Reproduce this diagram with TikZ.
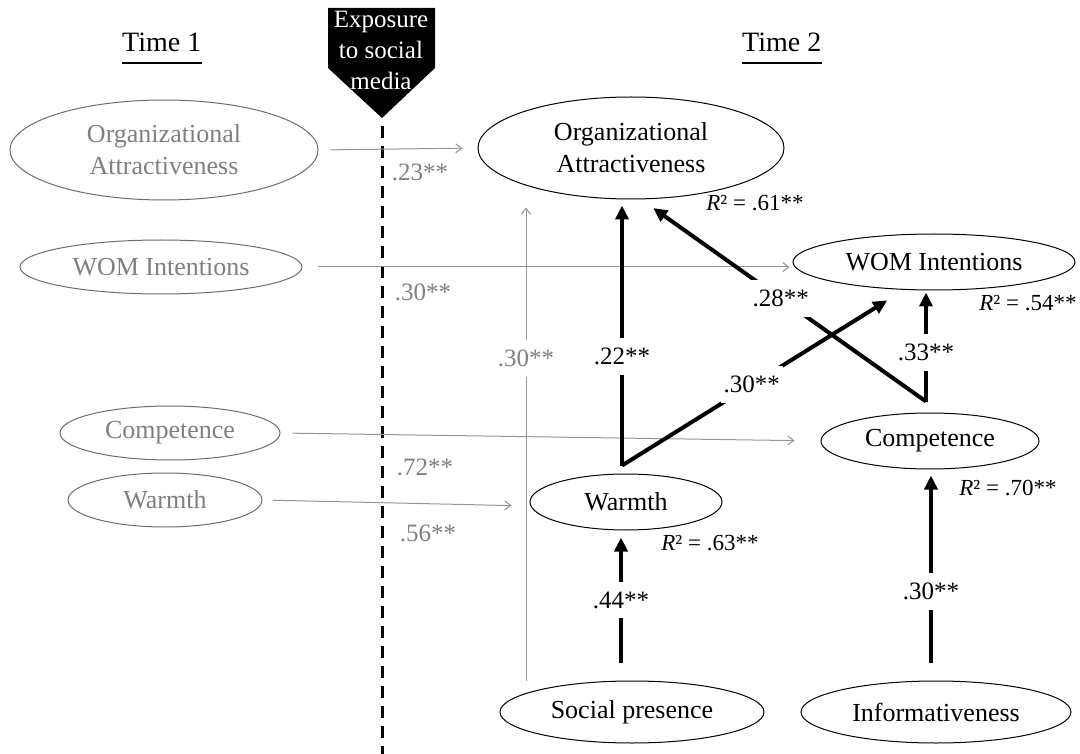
\documentclass[tikz,border=0pt]{standalone}
\usepackage{fontspec}
\setmainfont{Liberation Serif}
\usetikzlibrary{shapes.geometric,arrows.meta,positioning,calc}
\definecolor{tonegray}{RGB}{128,128,128}
\definecolor{tonedraw}{RGB}{110,110,110}
\definecolor{tonearrow}{RGB}{150,150,150}

\tikzset{
  latent/.style={ellipse, line width=1pt, inner sep=0pt, align=center, font=\fontsize{26}{32}\selectfont},
  ttwo/.style={latent, draw=black, text=black},
  tone/.style={latent, draw=tonedraw, text=tonegray},
  effect/.style={line width=4pt, -{Triangle[length=14pt,width=13pt]}},
  stab/.style={draw=tonearrow, line width=1pt, -{Straight Barb[length=6pt,width=9pt]}},
  coef/.style={font=\fontsize{25}{30}\selectfont, fill=white, inner xsep=3pt, inner ysep=10pt},
  greycoef/.style={coef, text=tonegray},
  tcoef/.style={font=\fontsize{25}{30}\selectfont, text=tonegray, inner sep=0pt},
  rsq/.style={font=\fontsize{23}{28}\selectfont, inner sep=0pt},
  header/.style={font=\fontsize{28}{32}\selectfont, inner sep=0pt, anchor=base west},
  exposure/.style={line width=3pt, dash pattern=on 12pt off 8pt}
}

\begin{document}
\begin{tikzpicture}[x=1pt, y=-1pt]
\path[fill=white, use as bounding box] (0,0) rectangle (1080,754);

\node[header] (time1) at (122,52) {Time 1\hspace{14pt}};
\node[header] (time2) at (742,52) {Time 2\hspace{14pt}};
\draw[line width=1.3pt] ([yshift=-11pt]time1.base west) -- ([yshift=-11pt]time1.base east);
\draw[line width=1.3pt] ([yshift=-11pt]time2.base west) -- ([yshift=-11pt]time2.base east);

\fill (328,8) -- (435,8) -- (435,68) -- (382,118) -- (328,68) -- cycle;
\node[text=white, align=center, font=\fontsize{25}{31}\selectfont, inner sep=0pt] (expo) at (381,50) {Exposure\\to social\\media};
\coordinate (tip) at (382,118);
\coordinate (dashend) at (382,754);
\draw[exposure] ([yshift=-8pt]tip) -- (dashend);

\node[tone, minimum width=308pt, minimum height=100pt] (oa1) at (164,150) {Organizational\\Attractiveness};
\node[tone, minimum width=282pt, minimum height=54pt] (wom1) at (161,267) {WOM Intentions};
\node[tone, minimum width=220pt, minimum height=54pt] (comp1) at (170,433) {Competence};
\node[tone, minimum width=194pt, minimum height=54pt] (warm1) at (165,500) {Warmth};

\node[ttwo, minimum width=306pt, minimum height=102pt] (oa2) at (631,148) {Organizational\\Attractiveness};
\node[ttwo, minimum width=282pt, minimum height=56pt] (wom2) at (934,262) {WOM Intentions};
\node[ttwo, minimum width=218pt, minimum height=56pt] (comp2) at (930,441) {Competence};
\node[ttwo, minimum width=192pt, minimum height=56pt] (warm2) at (626,502) {Warmth};
\node[ttwo, minimum width=264pt, minimum height=62pt] (sp) at (632,712) {Social presence};
\node[ttwo, minimum width=270pt, minimum height=62pt] (info) at (936,712) {Informativeness};

\draw[stab, shorten <=12pt, shorten >=15pt] (oa1.east) -- (oa2.west);
\draw[stab, shorten <=15pt, shorten >=3pt] (wom1.east) -- (wom1.east -| wom2.west);
\draw[stab, shorten <=12pt, shorten >=26pt] (comp1.east) -- (comp2.west);
\draw[stab, shorten <=10pt, shorten >=18pt] (warm1.east) -- ([yshift=-4pt]warm2.west);
\draw[stab] ([xshift=-106pt]sp.north) -- node[greycoef, pos=0.68] (g30) {.30**} ([xshift=-105pt,yshift=-8pt]oa2.south);

\node[tcoef] (b23) at (420,172) {.23**};
\node[tcoef] (b30) at (423,292) {.30**};
\node[tcoef] (b72) at (425,467) {.72**};
\node[tcoef] (b56) at (428,533) {.56**};

\coordinate (wtop) at ([xshift=-4pt,yshift=8pt]warm2.north);
\coordinate (ctop) at ([xshift=-4pt,yshift=11pt]comp2.north);

\draw[effect, shorten >=6pt] (wtop) -- node[coef, pos=0.41] (c22) {.22**} (wtop |- oa2.south);
\draw[effect, shorten >=20pt] (wtop) -- node[coef, pos=0.46] (c30w) {.30**} (wom2.-137);
\draw[effect, shorten >=15pt] (ctop) -- node[coef, pos=0.51] (c28) {.28**} (oa2.-79.5);
\draw[effect, shorten >=2pt] (ctop) -- node[coef, pos=0.44] (c33) {.33**} (ctop |- wom2.south);
\draw[effect] ([xshift=-11pt,yshift=18pt]sp.north) -- node[coef, pos=0.5] (c44) {.44**} ([xshift=-5pt,yshift=-7pt]warm2.south);
\draw[effect] ([xshift=-5pt,yshift=18pt]info.north) -- node[coef, pos=0.38] (c30i) {.30**} ([xshift=1pt,yshift=-6pt]comp2.south);

\node[rsq] (r2oa) at (755,203) {\textit{R}² = .61**};
\node[rsq] (r2wom) at (1028,303) {\textit{R}² = .54**};
\node[rsq] (r2comp) at (1008,488) {\textit{R}² = .70**};
\node[rsq] (r2warm) at (710,543) {\textit{R}² = .63**};
\end{tikzpicture}
\end{document}
